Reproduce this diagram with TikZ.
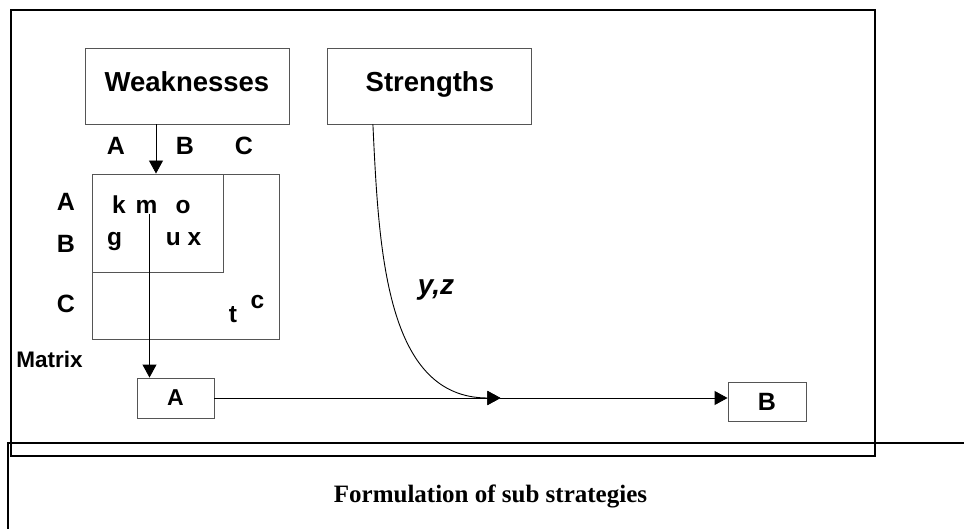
\documentclass[tikz,border=0pt]{standalone}
\usepackage{fontspec}
\setmainfont{Liberation Serif}
\setsansfont{Liberation Sans}
\usepackage{tikz}
\usetikzlibrary{arrows.meta, positioning}
\definecolor{edge}{RGB}{85,85,85}

\begin{document}
\begin{tikzpicture}[
    x=1pt, y=-1pt,
    box/.style = {rectangle, draw=edge, line width=0.9pt, inner sep=0pt,
                  minimum width=204pt, minimum height=76pt,
                  text height=20pt, text depth=8pt,
                  font=\sffamily\bfseries\fontsize{27.5}{30}\selectfont},
    smallbox/.style = {rectangle, draw=edge, line width=0.9pt, inner sep=0pt,
                  minimum width=77pt, minimum height=40pt,
                  font=\sffamily\bfseries\fontsize{23}{25}\selectfont},
    grid/.style = {rectangle, draw=edge, line width=0.9pt, inner sep=0pt},
    lbl/.style = {anchor=base, inner sep=0pt,
                  font=\sffamily\bfseries\fontsize{25}{27}\selectfont},
    cell/.style = {anchor=base, inner sep=0pt,
                  font=\sffamily\bfseries\fontsize{24.5}{26}\selectfont},
    frame/.style = {draw=black, line width=2pt},
    arrow/.style = {-{Triangle[length=13pt, width=14pt]}, line width=0.9pt}
  ]
    \useasboundingbox (0,0) rectangle (964,529);

    \draw[frame] (11,10) rectangle (875,456);
    \draw[frame] (8,529) -- (8,443) -- (964,443);

    \node[box] (weak) at (187,86) {Weaknesses};
    \node[box, right=38pt of weak] (strong) {Strengths};

    \node[grid, minimum width=187pt, minimum height=165pt] (mat) at (185.5,256.5) {};
    \node[grid, minimum width=131pt, minimum height=98pt] (matin) at (157.5,223) {};

    \node[lbl] (colA) at (116,155) {A};
    \node[lbl] (colB) at (185,155) {B};
    \node[lbl] (colC) at (244,155) {C};
    \node[lbl] (rowA) at (66,211) {A};
    \node[lbl] (rowB) at (66,253) {B};
    \node[lbl] (rowC) at (66,313) {C};

    \node[cell] (ck) at (119,214) {k};
    \node[cell] (cm) at (146.5,214) {m};
    \node[cell] (co) at (183,214) {o};
    \node[cell] (cg) at (114.5,246) {g};
    \node[cell] (cux) at (183.5,246) {u x};
    \node[cell] (ct) at (233,323) {t};
    \node[cell] (cc) at (257.5,309) {c};

    \node[lbl, font=\sffamily\bfseries\fontsize{22.5}{24}\selectfont] (mlabel) at (49.5,367) {Matrix};

    \node[smallbox] (boxa) at (175.5,398) {A};
    \node[smallbox, minimum width=78pt, minimum height=39pt,
          font=\sffamily\bfseries\fontsize{25}{27}\selectfont] (boxb) at (767,401.5) {B};

    \node[lbl, font=\sffamily\bfseries\itshape\fontsize{28}{30}\selectfont] (yz) at (436,295) {y,z};

    \node[anchor=base, inner sep=0pt, font=\rmfamily\bfseries\fontsize{25}{28}\selectfont]
      (caption) at (490.5,502) {Formulation of sub strategies};

    \coordinate (merge) at ([xshift=286pt]boxa.east);

    \draw[arrow] ([xshift=-31pt]weak.south) -- ([xshift=-31pt]weak.south |- mat.north);
    \draw[arrow] ([xshift=3pt]cm.base) -- ([xshift=3pt]cm.base |- boxa.north);
    \draw[arrow] (boxa.east) -- (merge);
    \draw[arrow] (merge) -- (merge -| boxb.west);
    \draw[arrow] ([xshift=-57pt]strong.south) .. controls +(6,126) and +(-115,0) .. (merge);
  \end{tikzpicture}
\end{document}
